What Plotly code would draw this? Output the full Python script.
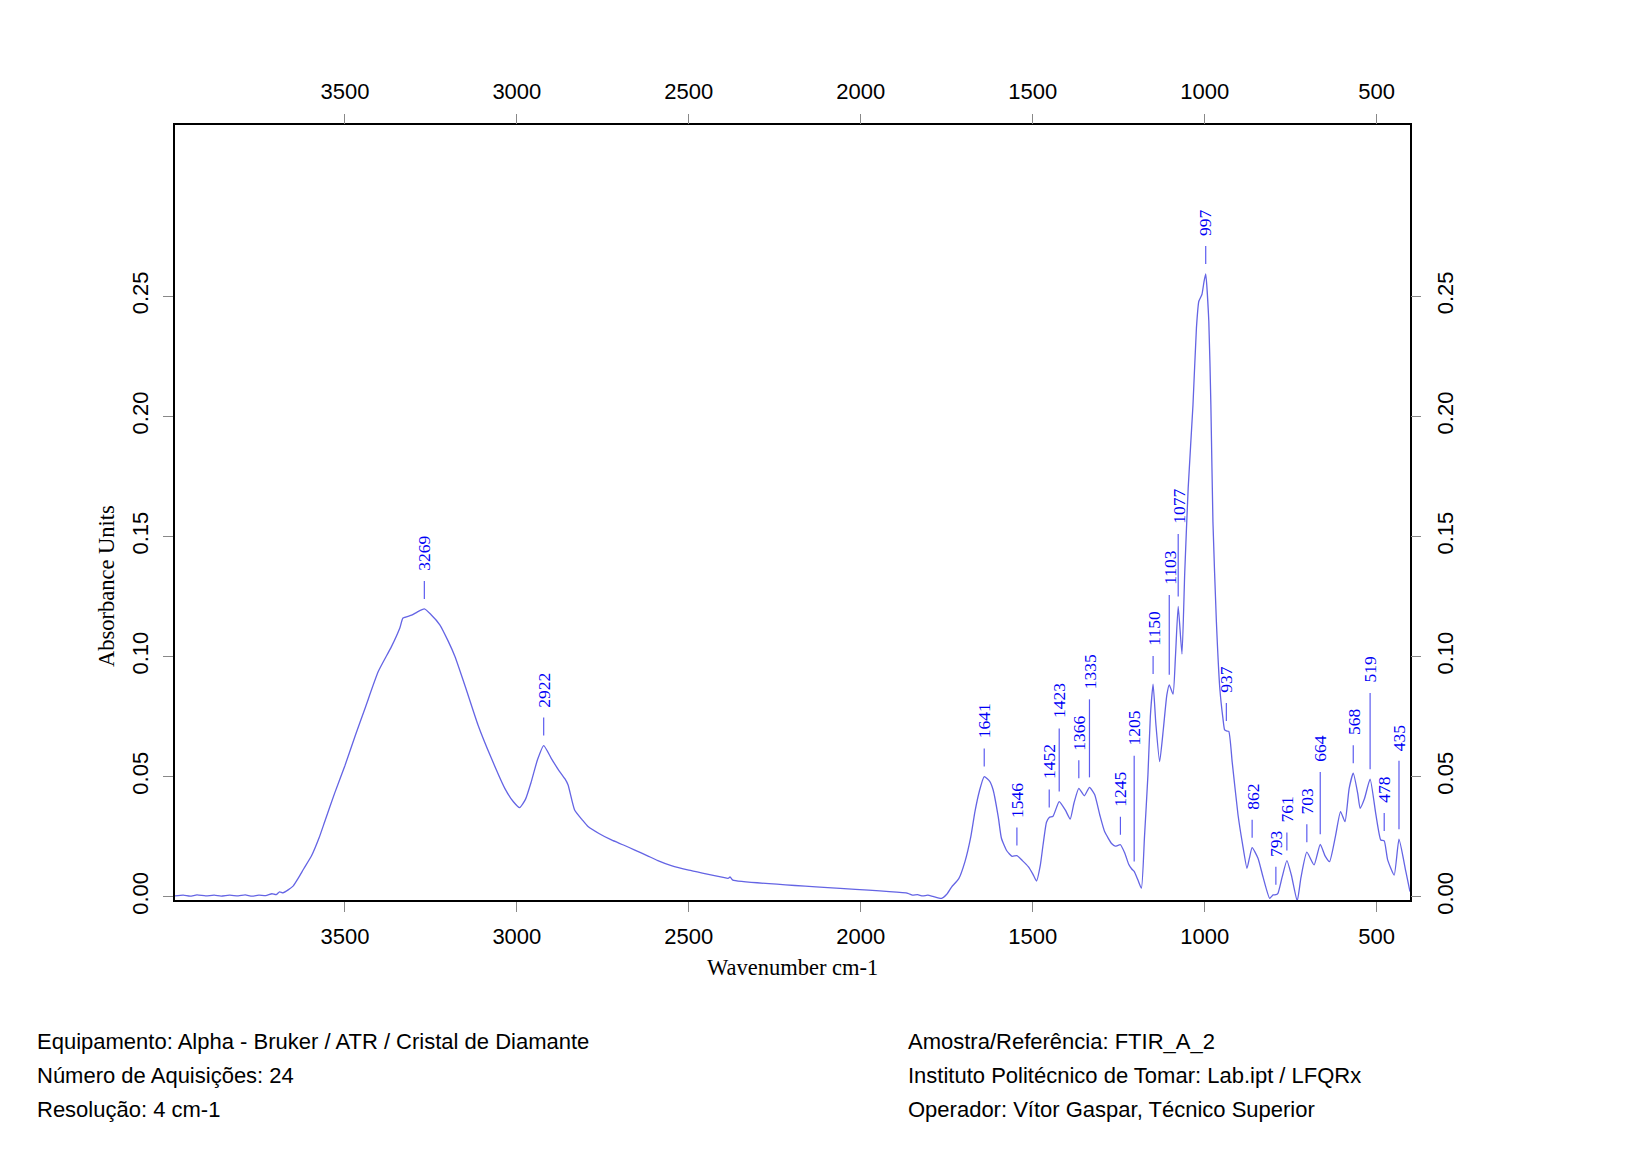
import numpy as np
import plotly.graph_objects as go

# spectrum (wavenumber cm-1, absorbance)
wavenumber = [
    3994, 3970, 3950, 3930, 3905, 3880, 3860, 3835, 3810, 3790, 3770, 3750, 3730, 3712, 3700,
    3690, 3680, 3665, 3650, 3636, 3620, 3597, 3575, 3558, 3530, 3500, 3470, 3440, 3403, 3365,
    3340, 3331, 3306, 3290, 3269, 3250, 3224, 3200, 3180, 3150, 3113, 3074, 3035, 3010, 2992,
    2975, 2958, 2940, 2922, 2900, 2880, 2860, 2851, 2832, 2810, 2793, 2760, 2725, 2690, 2657,
    2620, 2590, 2551, 2500, 2450, 2400, 2386, 2380, 2372, 1863, 1850, 1835, 1820, 1805, 1790,
    1765, 1750, 1736, 1715, 1697, 1680, 1668, 1655, 1641, 1625, 1615, 1600, 1591, 1575, 1560,
    1546, 1530, 1513, 1500, 1489, 1478, 1470, 1460, 1452, 1441, 1423, 1405, 1391, 1380, 1366,
    1350, 1335, 1320, 1305, 1291, 1270, 1260, 1245, 1232, 1221, 1212, 1205, 1194, 1184, 1175,
    1165, 1158, 1150, 1142, 1131, 1120, 1110, 1103, 1092, 1085, 1077, 1066, 1058, 1048, 1034,
    1024, 1017, 1008, 1002, 997, 988, 982, 976, 966, 956, 947, 942, 937, 930, 920,
    903, 890, 877, 870, 862, 845, 830, 811, 801, 793, 787, 775, 761, 748, 731,
    720, 703, 682, 664, 650, 637, 620, 605, 592, 580, 568, 555, 548, 535, 519,
    502, 488, 478, 468, 449, 435, 415, 403,
]
absorbance = [
    0.0003, 0.0006, 0.0002, 0.0007, 0.0003, 0.0006, 0.0002, 0.0006, 0.0003, 0.0007, 0.0002, 0.0006, 0.0004, 0.0012, 0.0008,
    0.0020, 0.0016, 0.0028, 0.0045, 0.0076, 0.0115, 0.0170, 0.0245, 0.0315, 0.0430, 0.0545, 0.0670, 0.0790, 0.0937, 0.1040,
    0.1120, 0.1160, 0.1172, 0.1185, 0.1198, 0.1175, 0.1132, 0.1065, 0.1000, 0.0875, 0.0715, 0.0576, 0.0451, 0.0395, 0.0371,
    0.0405, 0.0479, 0.0570, 0.0629, 0.0576, 0.0530, 0.0490, 0.0465, 0.0361, 0.0320, 0.0292, 0.0262, 0.0236, 0.0215, 0.0194,
    0.0170, 0.0150, 0.0129, 0.0110, 0.0095, 0.0080, 0.0076, 0.0082, 0.0069, 0.0014, 0.0006, 0.0008, 0.0003, 0.0006, 0.0001,
    -0.0007, 0.0010, 0.0040, 0.0075, 0.0146, 0.0250, 0.0354, 0.0440, 0.0500, 0.0480, 0.0444, 0.0330, 0.0243, 0.0190, 0.0168,
    0.0171, 0.0150, 0.0125, 0.0095, 0.0065, 0.0130, 0.0215, 0.0310, 0.0330, 0.0335, 0.0396, 0.0360, 0.0323, 0.0390, 0.0451,
    0.0420, 0.0455, 0.0425, 0.0340, 0.0271, 0.0220, 0.0210, 0.0216, 0.0180, 0.0135, 0.0115, 0.0105, 0.0069, 0.0035, 0.0250,
    0.0507, 0.0750, 0.0885, 0.0720, 0.0562, 0.0700, 0.0840, 0.0882, 0.0843, 0.1000, 0.1208, 0.1010, 0.1350, 0.1700, 0.2048,
    0.2368, 0.2479, 0.2507, 0.2560, 0.2593, 0.2396, 0.2048, 0.1560, 0.1146, 0.0868, 0.0743, 0.0694, 0.0690, 0.0688, 0.0560,
    0.0340, 0.0220, 0.0118, 0.0160, 0.0204, 0.0160, 0.0080, -0.0007, 0.0007, 0.0008, 0.0014, 0.0080, 0.0150, 0.0090, -0.0018,
    0.0080, 0.0185, 0.0132, 0.0218, 0.0170, 0.0146, 0.0250, 0.0354, 0.0312, 0.0450, 0.0514, 0.0430, 0.0368, 0.0410, 0.0489,
    0.0340, 0.0236, 0.0232, 0.0153, 0.0090, 0.0239, 0.0104, 0.0021,
]

# peak picks shown on the chart
peaks = [3269, 2922, 1641, 1546, 1452, 1423, 1366, 1335, 1245, 1205, 1150, 1103, 1077,
         997, 937, 862, 793, 761, 703, 664, 568, 519, 478, 435]

x_ticks = [3500, 3000, 2500, 2000, 1500, 1000, 500]
y_ticks = [0.00, 0.05, 0.10, 0.15, 0.20, 0.25]

info_left = [
    "Equipamento: Alpha - Bruker / ATR / Cristal de Diamante",
    "Número de Aquisições: 24",
    "Resolução: 4 cm-1",
]
info_right = [
    "Amostra/Referência: FTIR_A_2",
    "Instituto Politécnico de Tomar: Lab.ipt / LFQRx",
    "Operador: Vítor Gaspar, Técnico Superior",
]

W, H = 1640, 1161
ml, mr, mt, mb = 167, 238, 117, 269
x_range = [3994, 403]
y_range = [-0.0014, 0.3213]
plot_w = W - ml - mr
plot_h = H - mt - mb
px_x = plot_w / (x_range[0] - x_range[1])
px_y = plot_h / (y_range[1] - y_range[0])

sans = "Liberation Sans, Arial, sans-serif"
serif = "Liberation Serif, Times New Roman, serif"
line_col = "#6464e4"
lab_col = "#0000f5"
lab_size = 17.5


def paper_x(px):
    return (px - ml) / plot_w


def paper_y(py):
    return (mt + plot_h - py) / plot_h


def to_y(v):
    return v / px_y + y_range[0]


fig = go.Figure()
fig.add_trace(go.Scatter(x=wavenumber, y=absorbance, mode="lines",
                         line=dict(color=line_col, width=1.3, shape="spline", smoothing=0.5),
                         showlegend=False, hoverinfo="x+y"))
# dummy trace so the top / right axes get drawn
fig.add_trace(go.Scatter(x=[x_range[0]], y=[0], xaxis="x2", yaxis="y2", mode="markers",
                         marker=dict(opacity=0), showlegend=False, hoverinfo="skip"))

# peak labels: stack labels that would collide (pixel units, measured upward)
wn_sorted = np.array(wavenumber[::-1], dtype=float)
ab_sorted = np.array(absorbance[::-1], dtype=float)
placed = []
line_x, line_y = [], []
for p in peaks:
    a = float(np.interp(p, wn_sorted, ab_sorted))
    u = (a - y_range[0]) * px_y
    xp = (x_range[0] - p) * px_x
    L = len(str(p)) * 0.5 * lab_size
    base = u + 10
    top_line = u + 28
    bot = top_line + 9
    moved = True
    while moved:
        moved = False
        for (qx, qb, qt) in placed:
            if abs(qx - xp) < 18 and not (bot > qt or bot + L < qb):
                top_line = qt + 17
                bot = top_line + 9
                moved = True
    placed.append((xp, bot, bot + L))
    line_x += [p, p, None]
    line_y += [to_y(base), to_y(top_line), None]
    fig.add_annotation(x=p, y=to_y(bot), text=str(p), textangle=-90, showarrow=False,
                       xanchor="center", yanchor="bottom", borderpad=0,
                       font=dict(family=serif, size=lab_size, color=lab_col))

fig.add_trace(go.Scatter(x=line_x, y=line_y, mode="lines", line=dict(color="#5c5cf0", width=1.2),
                         showlegend=False, hoverinfo="skip"))

tick_font = dict(family=sans, size=22, color="black")
xax = dict(range=x_range, tickvals=x_ticks, ticks="outside", ticklen=10, tickcolor="#888888",
           tickwidth=1, tickfont=tick_font, showgrid=False, zeroline=False, ticklabelstandoff=6)
yax = dict(range=y_range, tickvals=y_ticks, tickformat=".2f", ticks="outside", ticklen=10,
           tickcolor="#888888", tickwidth=1, tickfont=tick_font, tickangle=-90, showgrid=False,
           zeroline=False, ticklabelstandoff=6)

fig.update_layout(
    width=W, height=H,
    margin=dict(l=ml, r=mr, t=mt, b=mb),
    paper_bgcolor="white", plot_bgcolor="white",
    xaxis=dict(**xax, showline=True, linecolor="black", linewidth=2, mirror=True),
    yaxis=dict(**yax, showline=True, linecolor="black", linewidth=2, mirror=True),
    xaxis2=dict(**xax, overlaying="x", side="top", anchor="y"),
    yaxis2=dict(**yax, overlaying="y", side="right", anchor="x"),
)

fig.add_annotation(xref="paper", yref="paper", x=0.5, y=paper_y(960),
                   text="Wavenumber cm-1", showarrow=False, xanchor="center", yanchor="middle",
                   font=dict(family=serif, size=22.5, color="black"))
fig.add_annotation(xref="paper", yref="paper", x=paper_x(98), y=paper_y(578),
                   text="Absorbance Units", textangle=-90, showarrow=False,
                   xanchor="center", yanchor="middle",
                   font=dict(family=serif, size=22.5, color="black"))

rows_y = [1033, 1067, 1101]
for col_x, lines in ((27, info_left), (898, info_right)):
    for ry, t in zip(rows_y, lines):
        fig.add_annotation(xref="paper", yref="paper", x=paper_x(col_x),
                           y=paper_y(ry), text=t, showarrow=False,
                           xanchor="left", yanchor="middle",
                           font=dict(family=sans, size=22, color="black"))

fig.write_html("out.html")
